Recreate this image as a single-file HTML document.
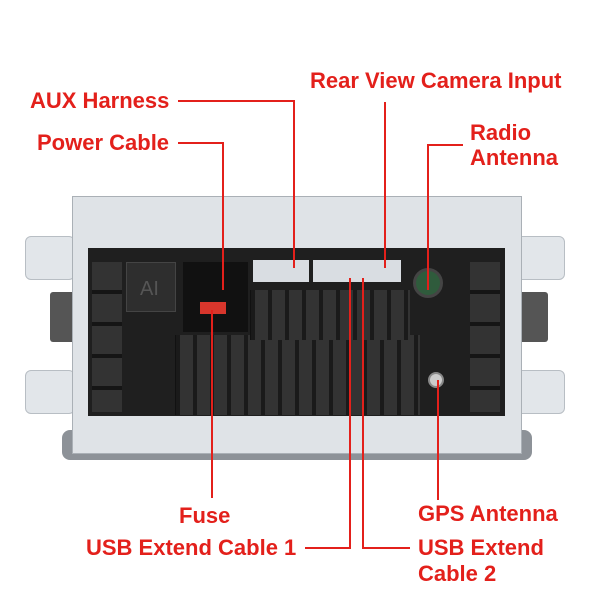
<!DOCTYPE html>
<html><head><style>
body{margin:0;width:600px;height:600px;background:#fff;position:relative;overflow:hidden;font-family:"Liberation Sans",sans-serif}
div{position:absolute;box-sizing:border-box}
.t{color:#e3201b;font-weight:bold;font-size:22px;white-space:nowrap;line-height:24px}
.h{height:2px;background:#e3201b}
.v{width:2px;background:#e3201b}
.br{background:#e2e6ea;border:1px solid #b8bec4}
.fin{background:#2a2a2a;border-left:1px solid #111}
</style></head><body>
<div class="br" style="left:25px;top:236px;width:50px;height:44px;border-radius:6px"></div>
<div class="br" style="left:25px;top:370px;width:50px;height:44px;border-radius:6px"></div>
<div class="br" style="left:515px;top:236px;width:50px;height:44px;border-radius:6px"></div>
<div class="br" style="left:515px;top:370px;width:50px;height:44px;border-radius:6px"></div>
<div style="left:50px;top:292px;width:30px;height:50px;background:#555;border-radius:3px"></div>
<div style="left:518px;top:292px;width:30px;height:50px;background:#555;border-radius:3px"></div>
<div style="left:62px;top:430px;width:470px;height:30px;background:#8d9298;border-radius:8px"></div>
<div style="left:72px;top:196px;width:450px;height:258px;background:#dfe3e7;border:1px solid #aab0b6"></div>
<div style="left:88px;top:248px;width:417px;height:168px;background:#1f1f1f"></div>
<div style="left:126px;top:262px;width:50px;height:50px;background:#2e2e2e;border:1px solid #444"></div>
<div style="left:140px;top:278px;color:#555;font-size:20px">AI</div>
<div style="left:183px;top:262px;width:65px;height:70px;background:#111"></div>
<div style="left:200px;top:302px;width:26px;height:12px;background:#d8362c"></div>
<div style="left:253px;top:260px;width:56px;height:22px;background:#d9dde2"></div>
<div style="left:313px;top:260px;width:88px;height:22px;background:#d9dde2"></div>
<div style="left:413px;top:268px;width:30px;height:30px;border-radius:50%;background:#2f5b3c;border:3px solid #444"></div>
<div style="left:428px;top:372px;width:16px;height:16px;border-radius:50%;background:#ccc;border:2px solid #888"></div>
<div class="fin" style="left:175px;top:335px;width:245px;height:80px;background:repeating-linear-gradient(90deg,#1a1a1a 0 4px,#333 4px 17px)"></div>
<div class="fin" style="left:250px;top:290px;width:160px;height:50px;background:repeating-linear-gradient(90deg,#1a1a1a 0 4px,#333 4px 17px)"></div>
<div style="left:92px;top:262px;width:30px;height:150px;background:repeating-linear-gradient(180deg,#333 0 28px,#151515 28px 32px)"></div>
<div style="left:470px;top:262px;width:30px;height:150px;background:repeating-linear-gradient(180deg,#333 0 28px,#151515 28px 32px)"></div>
<div class="h" style="left:178px;top:100px;width:117px"></div>
<div class="v" style="left:293px;top:100px;height:168px"></div>
<div class="h" style="left:178px;top:142px;width:46px"></div>
<div class="v" style="left:222px;top:142px;height:148px"></div>
<div class="v" style="left:384px;top:102px;height:166px"></div>
<div class="h" style="left:427px;top:144px;width:36px"></div>
<div class="v" style="left:427px;top:144px;height:146px"></div>
<div class="v" style="left:211px;top:310px;height:188px"></div>
<div class="v" style="left:349px;top:278px;height:271px"></div>
<div class="h" style="left:305px;top:547px;width:46px"></div>
<div class="v" style="left:362px;top:278px;height:271px"></div>
<div class="h" style="left:362px;top:547px;width:48px"></div>
<div class="v" style="left:437px;top:380px;height:120px"></div>
<div class="t" style="left:30px;top:89px">AUX Harness</div>
<div class="t" style="left:37px;top:131px">Power Cable</div>
<div class="t" style="left:310px;top:69px">Rear View Camera Input</div>
<div class="t" style="left:470px;top:121px">Radio</div>
<div class="t" style="left:470px;top:146px">Antenna</div>
<div class="t" style="left:179px;top:504px">Fuse</div>
<div class="t" style="left:418px;top:502px">GPS Antenna</div>
<div class="t" style="left:86px;top:536px">USB Extend Cable 1</div>
<div class="t" style="left:418px;top:536px">USB Extend</div>
<div class="t" style="left:418px;top:562px">Cable 2</div>
</body></html>
